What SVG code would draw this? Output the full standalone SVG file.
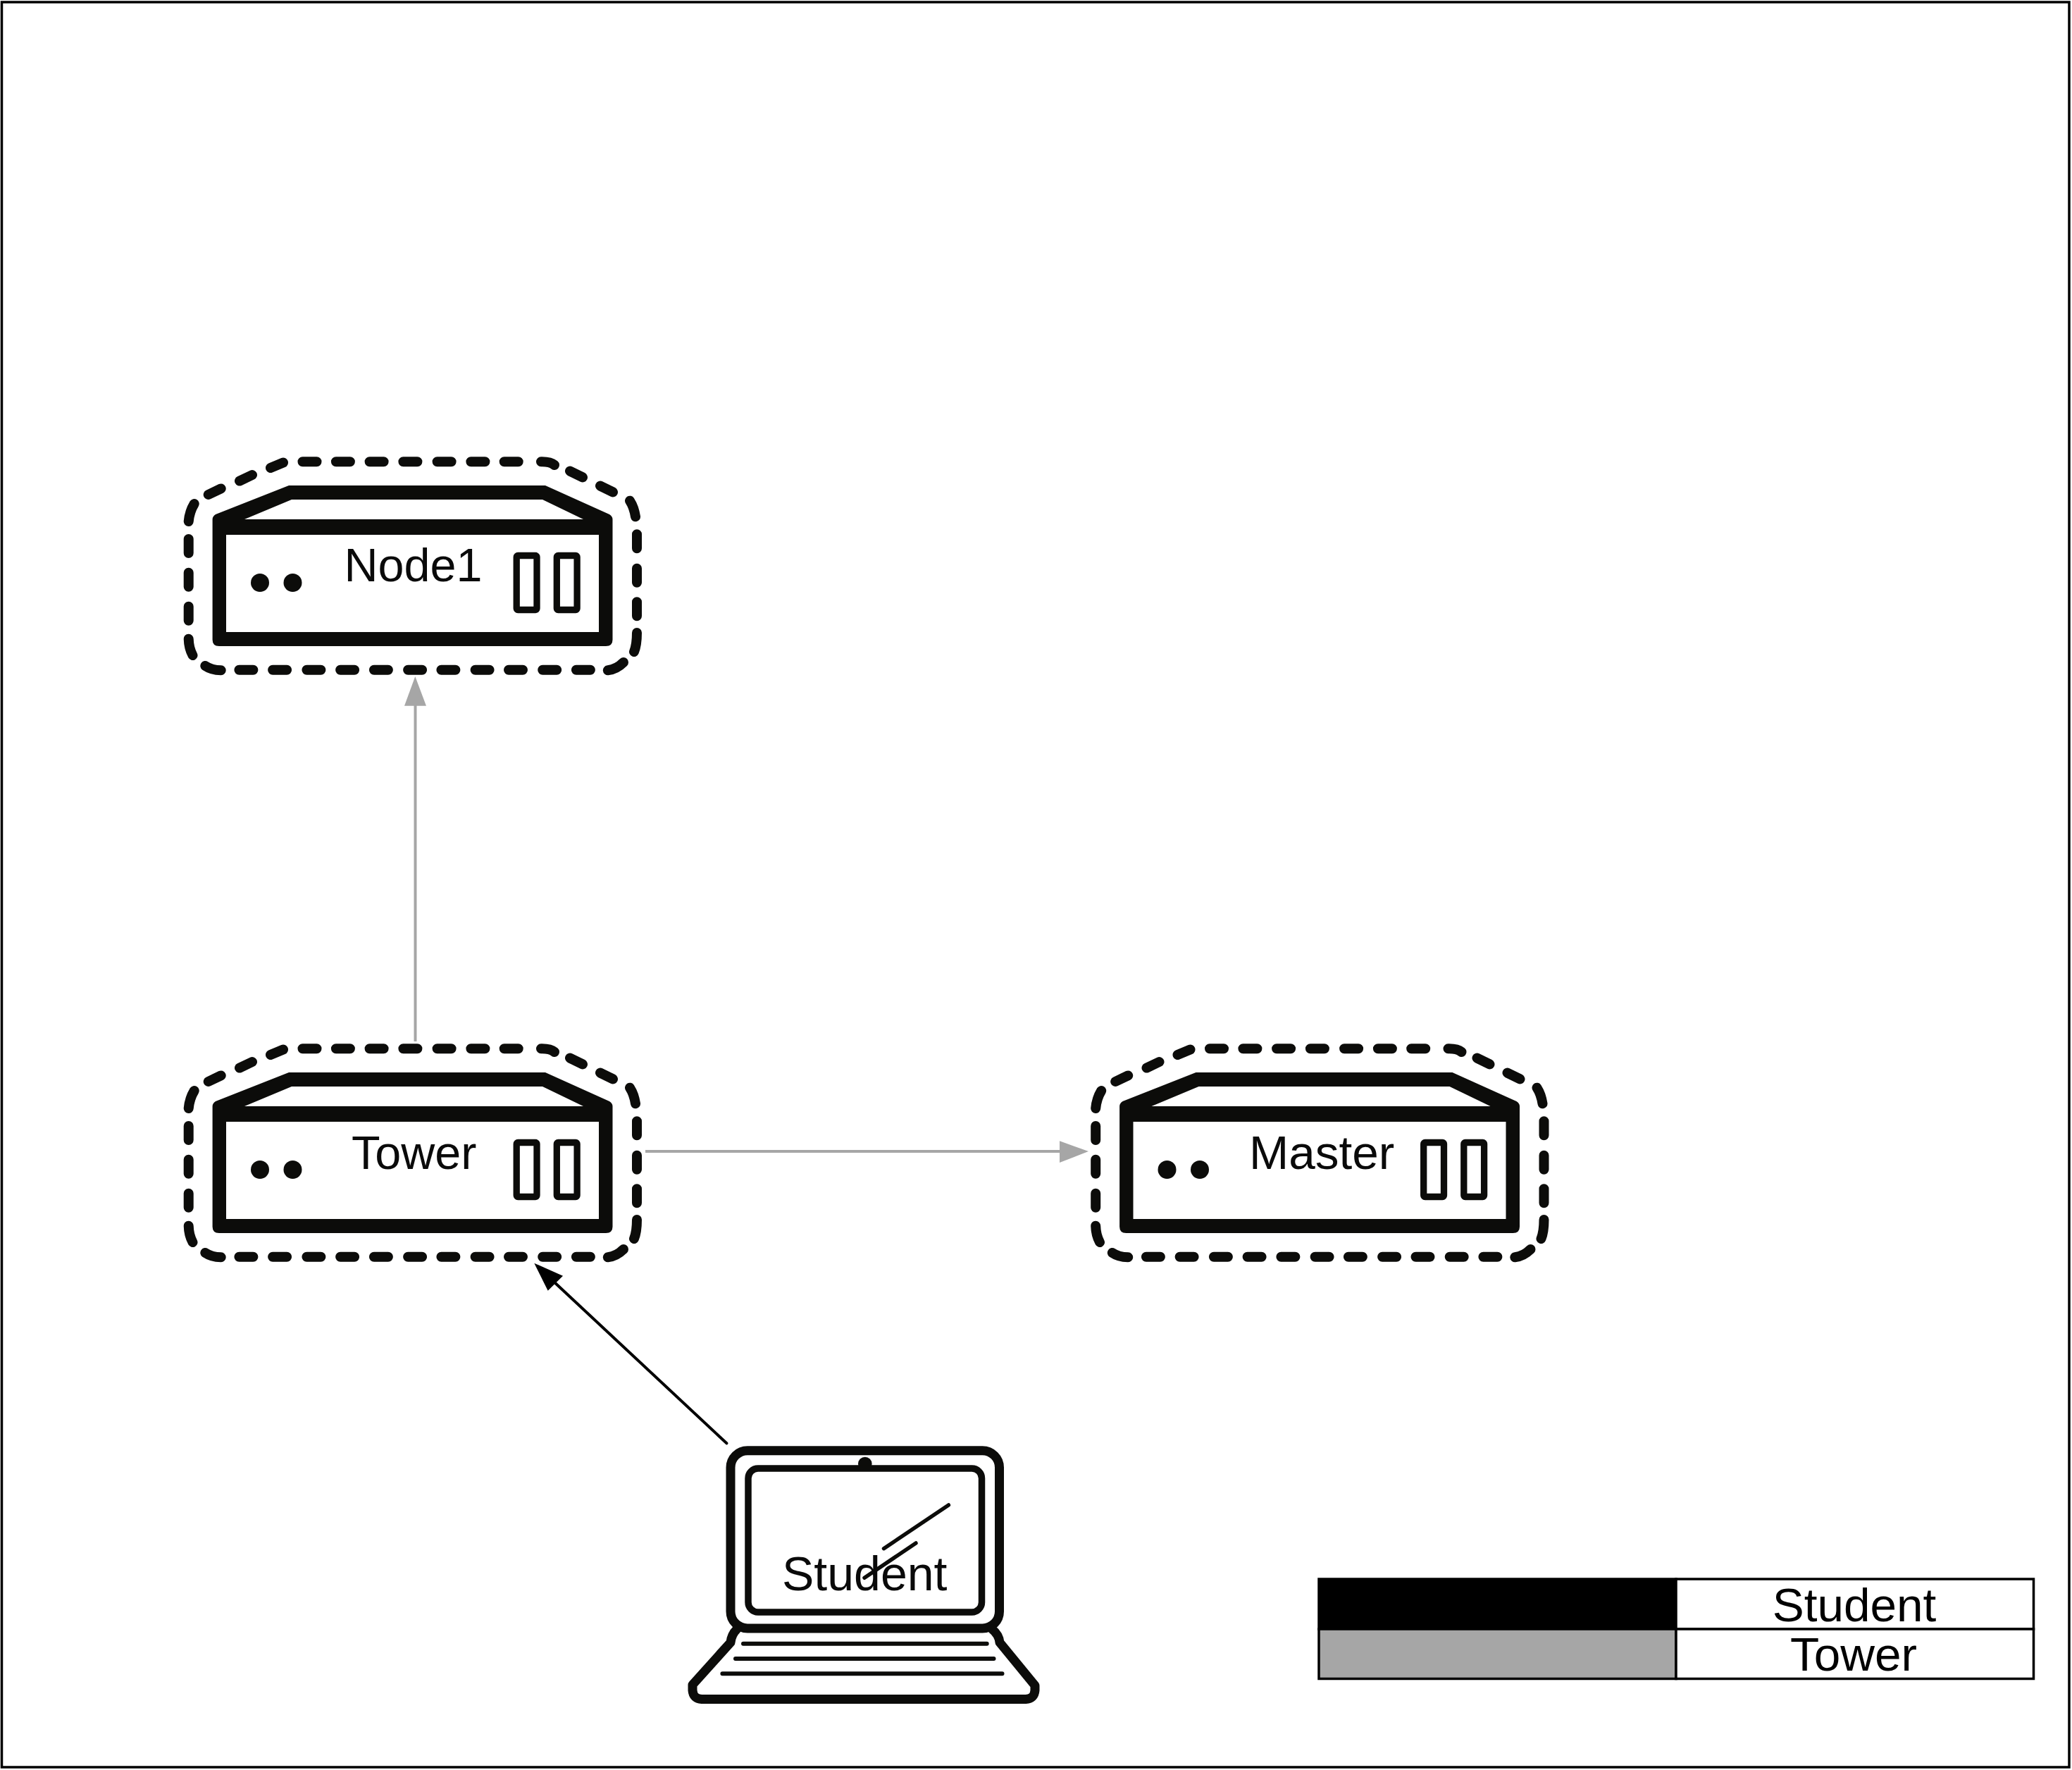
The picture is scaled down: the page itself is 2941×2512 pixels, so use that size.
<svg xmlns="http://www.w3.org/2000/svg" xmlns:xlink="http://www.w3.org/1999/xlink" width="2941" height="2512" viewBox="0 0 2941 2512">
<style>
text{font-family:"Liberation Sans",Arial,sans-serif;font-size:66.500px;fill:#0a0a0a}
.leg{font-size:67.500px;text-anchor:middle;fill:#000}
.dash{fill:none;stroke:#0c0c0a;stroke-width:14;stroke-linecap:round}
.ic{fill:#0c0c0a}
.port{fill:none;stroke:#0c0c0a;stroke-width:9.3;stroke-linejoin:round}
.gray{stroke:#a6a6a6;stroke-width:4;fill:none}
.blk{stroke:#000;stroke-width:4;fill:none}
.ln{fill:none;stroke:#0c0c0a;stroke-linecap:round;stroke-linejoin:round}
</style>
<defs>
<g id="server">
<path class="dash" d="M429.500 655.300h20M476.900 655.300h20M524.600 655.300h20M572.400 655.300h20M620.600 655.300h20M668.400 655.300h20M715.700 655.300h20M768 655.300Q781 655 787 660M809 668.600L827 677.400M852 689.600L870 698.400M894 710.700Q900 720 902 733.300M904 758.300v20M904 806.700v20M904 854.300v20M904 898Q904 915 900 925M885 940Q875 950 862.800 951.300M837.900 950.700h-20M790.200 950.700h-20M742 950.700h-20M694.600 950.700h-20M646.400 950.700h-20M599.100 950.700h-20M550.900 950.700h-20M503.100 950.700h-20M455.400 950.700h-20M407.100 950.700h-20M359.400 950.700h-20M313.700 951.300Q300 951 291.300 945M273.500 930Q268 920 267.700 906.700M267.700 880.700v-20M267.700 832.700v-20M267.700 785v-20M267.700 740Q269 726 275.700 715M295.700 702L313.700 693.400M340 682.600L358 674M384 664L402 656.500"/>
<path class="ic" fill-rule="evenodd" d="M301.600 737Q301.600 733 306 730L410 689H774L865 730Q869.500 733 869.500 737V908Q869.500 917 860 917H311Q301.600 917 301.600 908ZM321 759V897H850V759ZM347 737H828L770 709H414Z"/>
<circle class="ic" cx="369" cy="827" r="13"/>
<circle class="ic" cx="415.500" cy="827" r="13"/>
<rect class="port" x="733.200" y="788.500" width="28.800" height="77" rx="2"/>
<rect class="port" x="790.300" y="788.500" width="28.800" height="77" rx="2"/>
</g>
</defs>
<rect width="2941" height="2512" fill="#fff"/>
<rect x="2.500" y="3" width="2934.500" height="2505" fill="none" stroke="#000" stroke-width="3.500"/>
<g id="connectors">
<path class="gray" d="M589.500 1478V1000"/>
<polygon fill="#a6a6a6" points="589.300,960 605,1001.700 574,1001.700"/>
<path class="gray" d="M916 1634H1506"/>
<polygon fill="#a6a6a6" points="1545,1634 1504,1619.300 1504,1650"/>
<path class="blk" stroke-linecap="round" d="M1031.400 2048.300L785 1818"/>
<polygon fill="#000" points="758.300,1792.700 777.700,1831.700 799,1810.700"/>
</g>
<g id="node-node1">
<use href="#server" xlink:href="#server"/>
<text x="488.600" y="825">Node1</text>
</g>
<g id="node-tower">
<use href="#server" xlink:href="#server" y="833"/>
<text x="499" y="1659">Tower</text>
</g>
<g id="node-master">
<use href="#server" xlink:href="#server" x="1287.500" y="833"/>
<text x="1773" y="1659" style="font-size:67.500px">Master</text>
</g>
<g id="node-student">
<rect x="1037" y="2058.700" width="381.500" height="252.300" rx="24" fill="none" stroke="#0c0c0a" stroke-width="13"/>
<circle class="ic" cx="1227.800" cy="2077.500" r="9.800"/>
<rect x="1062" y="2084" width="331.500" height="204" rx="14" fill="#fff" stroke="#0c0c0a" stroke-width="9.500"/>
<path class="ln" stroke-width="5.500" d="M1254.500 2197.700L1346.400 2136M1227 2239.300L1300 2190"/>
<path class="ln" stroke-width="13" d="M1046 2312Q1038 2320 1037 2331L983 2391V2399Q984 2411 996 2411.500H1456Q1468 2411 1469 2399V2392L1419 2331Q1418 2320 1408 2312"/>
<path class="ln" stroke-width="6" d="M1055 2332.700H1400.700M1044 2354H1410.500M1025.400 2375.300H1422.500"/>
<text x="1110" y="2256.700" style="font-size:68px">Student</text>
</g>
<g id="legend" stroke="#000" stroke-width="3.500">
<rect x="1872" y="2241" width="507" height="71" fill="#000"/>
<rect x="1872" y="2312" width="507" height="70.500" fill="#a6a6a6"/>
<rect x="2379" y="2241" width="507.500" height="71" fill="#fff"/>
<rect x="2379" y="2312" width="507.500" height="70.500" fill="#fff"/>
<text class="leg" x="2632" y="2301" stroke="none">Student</text>
<text class="leg" x="2631" y="2370.700" stroke="none">Tower</text>
</g>
</svg>
